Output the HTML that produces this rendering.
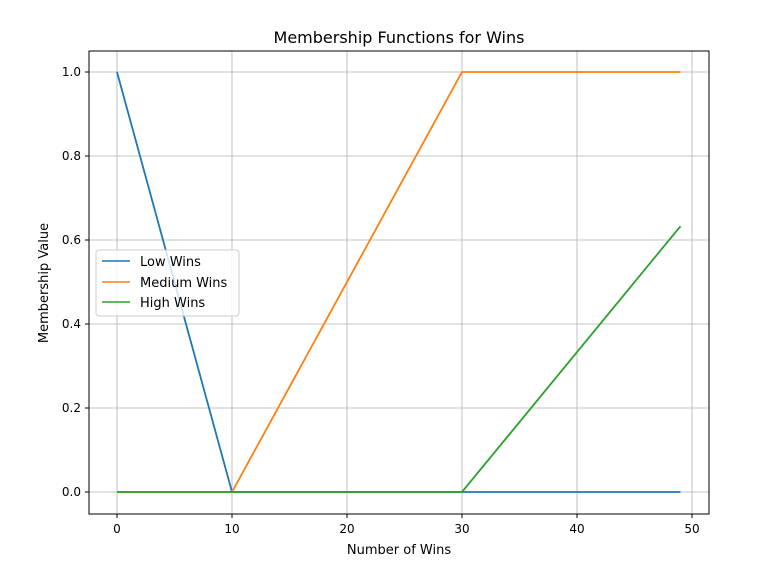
<!DOCTYPE html>
<html><head><meta charset="utf-8"><style>
body{margin:0;background:#fff;}
svg text{font-family:"DejaVu Sans","Liberation Sans",sans-serif;fill:#000;}
</style></head><body>
<svg id="chart" width="765" height="582" xmlns="http://www.w3.org/2000/svg">
<rect x="0" y="0" width="765" height="582" fill="#fff"/>
<g id="grid"></g>
<g id="series"></g>
<rect x="89" y="51" width="620" height="463" fill="none" stroke="#000" stroke-width="1"/>
<g id="ticks"></g>
<text x="399" y="43" font-size="16" text-anchor="middle">Membership Functions for Wins</text>
<text x="399" y="554" font-size="13" text-anchor="middle">Number of Wins</text>
<text x="48" y="283" font-size="13" text-anchor="middle" transform="rotate(-90 48 283)">Membership Value</text>
<g>
<rect x="96" y="250" width="143" height="66" rx="3" fill="#fff" fill-opacity="0.8" stroke="#ccc"/>
<line x1="102" y1="261" x2="130" y2="261" stroke="#1f77b4" stroke-width="1.5"/>
<text x="140" y="266" font-size="13">Low Wins</text>
<line x1="102" y1="282" x2="130" y2="282" stroke="#ff7f0e" stroke-width="1.5"/>
<text x="140" y="287" font-size="13">Medium Wins</text>
<line x1="102" y1="302" x2="130" y2="302" stroke="#2ca02c" stroke-width="1.5"/>
<text x="140" y="307" font-size="13">High Wins</text>
</g>
</svg>
<script>
const xTicks=[0,10,20,30,40,50];
const yTicks=[0,0.2,0.4,0.6,0.8,1.0];
const yTickLabels=["0.0","0.2","0.4","0.6","0.8","1.0"];
const xVals=[0,10,30,49];
const lowVals=[1,0,0,0];
const mediumVals=[0,0,1,1];
const highVals=[0,0,0,0.633];
const NS="http://www.w3.org/2000/svg";
function xs(v){return 117+v*11.5;}
function ys(v){return 492-v*420;}
const grid=document.getElementById('grid'),ticks=document.getElementById('ticks'),ser=document.getElementById('series');
function mk(tag,attrs,parent){const e=document.createElementNS(NS,tag);for(const k in attrs)e.setAttribute(k,attrs[k]);parent.appendChild(e);return e;}
xTicks.forEach(t=>{const x=xs(t);
const g=mk('line',{x1:x,x2:x,y1:51,y2:514,stroke:'#b0b0b0','stroke-width':0.8},grid);


const tk=mk('line',{x1:x,x2:x,y1:514,y2:518,stroke:'#000'},ticks);


const l=mk('text',{x:x,y:533,'font-size':12,'text-anchor':'middle'},ticks);l.textContent=t;

});
yTicks.forEach((t,i)=>{const y=ys(t);
const g=mk('line',{x1:89,x2:709,y1:y,y2:y,stroke:'#b0b0b0','stroke-width':0.8},grid);


const tk=mk('line',{x1:85,x2:89,y1:y,y2:y,stroke:'#000'},ticks);


const l=mk('text',{x:81,y:y+4,'font-size':12,'text-anchor':'end'},ticks);l.textContent=yTickLabels[i];

});
[[lowVals,'#1f77b4','line-low-wins'],[mediumVals,'#ff7f0e','line-medium-wins'],[highVals,'#2ca02c','line-high-wins']].forEach(([vals,c,n])=>{
const p=mk('polyline',{points:vals.map((v,i)=>xs(xVals[i])+','+ys(v)).join(' '),fill:'none',stroke:c,'stroke-width':1.8},ser);

});
</script>
</body></html>
